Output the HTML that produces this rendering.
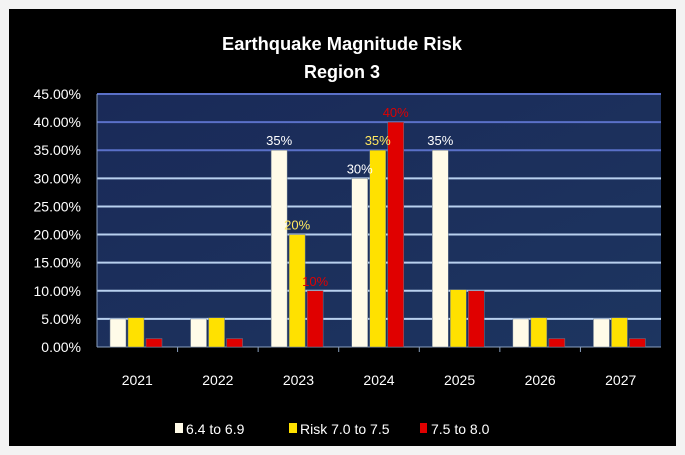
<!DOCTYPE html>
<html><head><meta charset="utf-8"><style>
html,body{margin:0;padding:0;background:#f3f3f3;}
svg{display:block;font-family:"Liberation Sans",sans-serif;}
</style></head><body>
<svg id="chart" width="685" height="455">
<defs>
<linearGradient id="bg" x1="0" y1="0" x2="1" y2="1"><stop offset="0" stop-color="#1a2a58"/><stop offset="1" stop-color="#1d3560"/></linearGradient>
</defs>
<rect x="9" y="9" width="667" height="437" fill="#000"/>
<text x="342" y="50" fill="#fff" font-size="18" font-weight="bold" text-anchor="middle" textLength="240" lengthAdjust="spacingAndGlyphs">Earthquake Magnitude Risk</text>
<text x="342" y="78" fill="#fff" font-size="18" font-weight="bold" text-anchor="middle">Region  3</text>
<rect x="97" y="94" width="564" height="253" fill="url(#bg)"/>
<g id="grid"></g><g id="bars"></g><g id="labels"></g>
<g>
<rect x="175" y="423" width="8" height="10" fill="#fffbe8"/>
<text x="186" y="434" fill="#fff" font-size="14">6.4 to 6.9</text>
<rect x="289" y="423" width="8" height="10" fill="#ffe100"/>
<text x="300" y="434" fill="#fff" font-size="14">Risk 7.0 to 7.5</text>
<rect x="420" y="423" width="7" height="10" fill="#e00000"/>
<text x="431" y="434" fill="#fff" font-size="14">7.5 to 8.0</text>
</g>
</svg>
<script>
const categories=["2021","2022","2023","2024","2025","2026","2027"];
const seriesLow=[5,5,35,30,35,5,5];
const seriesMid=[5.2,5.2,20,35,10.2,5.2,5.2];
const seriesHigh=[1.5,1.5,10,40,10,1.5,1.5];
const labelLow=["","","35%","30%","35%","",""];
const labelMid=["","","20%","35%","","",""];
const labelHigh=["","","10%","40%","","",""];
const yTicks=[0,5,10,15,20,25,30,35,40,45];
const NS="http://www.w3.org/2000/svg";
const x0=97,x1=661,y0=347,y1=94,ymax=45;
const y=v=>y0-(v/ymax)*(y0-y1);
const cw=(x1-x0)/categories.length;
function mk(t,a,p){const e=document.createElementNS(NS,t);for(const k in a)e.setAttribute(k,a[k]);p.appendChild(e);return e;}
const grid=document.getElementById('grid'),bars=document.getElementById('bars'),labels=document.getElementById('labels');
yTicks.forEach(t=>{
 if(t>0){const l=mk('line',{x1:x0,x2:x1,y1:y(t),y2:y(t),stroke:t>=35?'#5a70c8':'#b8d0ee','stroke-width':2},grid);
 
 }
 const tx=mk('text',{x:81,y:y(t)+5,fill:'#fff','font-size':14,'text-anchor':'end'},grid);
 tx.textContent=t.toFixed(2)+'%';
 
 
});
const ax=mk('line',{x1:x0,x2:x0,y1:y1,y2:y0,stroke:'#8aa0c0','stroke-width':1},grid);


const bx=mk('line',{x1:x0,x2:x1,y1:y0,y2:y0,stroke:'#8aa0c0','stroke-width':1},grid);


const series=[[seriesLow,'#fffbe8',labelLow,'#fff'],[seriesMid,'#ffe100',labelMid,'#ffe860'],[seriesHigh,'#e00000',labelHigh,'#e00000']];
categories.forEach((c,i)=>{
 const cx=x0+i*cw;
 series.forEach((s,j)=>{
  const v=s[0][i],bxp=cx+13+j*18;
  const r=mk('rect',{x:bxp,y:y(v),width:16,height:y0-y(v),fill:s[1],stroke:'#6a7a90','stroke-width':0.5},bars);
  
  
  if(s[2][i]){const t=mk('text',{x:bxp+8,y:y(v)-5,fill:s[3],'font-size':13,'text-anchor':'middle'},labels);
  t.textContent=s[2][i];
  
  }
 });
 if(i>0){const tk=mk('line',{x1:cx,x2:cx,y1:y0,y2:y0+5,stroke:'#8aa0c0'},grid);
 
 }
 const t=mk('text',{x:cx+cw/2,y:385,fill:'#fff','font-size':14,'text-anchor':'middle'},labels);
 t.textContent=c;
 
 
});
</script>
</body></html>
